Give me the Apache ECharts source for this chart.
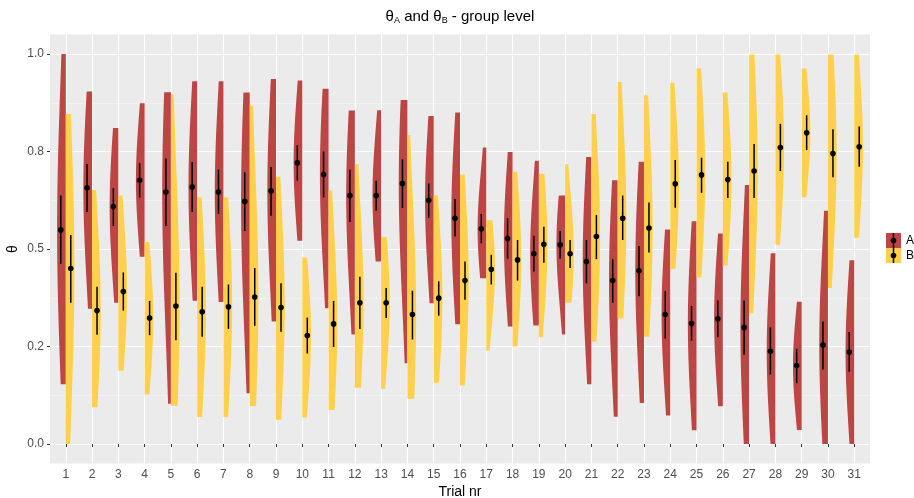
<!DOCTYPE html>
<html lang="en">
<head>
    <meta charset="UTF-8">
    <title>theta A and theta B - group level</title>
    <script type="text/javascript" src="https://cdn.jsdelivr.net/npm/echarts@6/dist/echarts.min.js"></script>
    <style>
        html, body { margin: 0; padding: 0; background: #fff; }
        #main { width: 914px; height: 498px; }
    </style>
</head>
<body>
<div id="main"></div>
<script>
    // trial numbers on the x axis
    var trials = [1, 2, 3, 4, 5, 6, 7, 8, 9, 10, 11, 12, 13, 14, 15, 16, 17, 18, 19, 20,
                  21, 22, 23, 24, 25, 26, 27, 28, 29, 30, 31];

    // group A: violin range, point estimate and error bar
    var aLo  = [0.153, 0.347, 0.362, 0.480, 0.103, 0.367, 0.364, 0.130, 0.314, 0.521, 0.348, 0.281, 0.468, 0.207, 0.361, 0.307,
                0.425, 0.301, 0.304, 0.281, 0.153, 0.070, 0.105, 0.073, 0.035, 0.097, 0.000, 0.000, 0.036, 0.000, 0.000];
    var aHi  = [1.000, 0.904, 0.810, 0.874, 0.902, 0.930, 0.930, 0.901, 0.936, 0.932, 0.911, 0.855, 0.856, 0.882, 0.841, 0.850,
                0.760, 0.749, 0.726, 0.637, 0.736, 0.676, 0.724, 0.550, 0.571, 0.540, 0.664, 0.489, 0.365, 0.598, 0.471];
    var aMid = [0.549, 0.657, 0.609, 0.676, 0.646, 0.659, 0.646, 0.622, 0.649, 0.721, 0.691, 0.637, 0.637, 0.668, 0.625, 0.579,
                0.552, 0.527, 0.488, 0.511, 0.468, 0.419, 0.444, 0.332, 0.309, 0.321, 0.299, 0.238, 0.201, 0.254, 0.236];
    var aErrLo = [0.462, 0.595, 0.559, 0.632, 0.559, 0.595, 0.590, 0.546, 0.585, 0.675, 0.632, 0.569, 0.598, 0.605, 0.580, 0.532,
                  0.515, 0.475, 0.442, 0.475, 0.412, 0.362, 0.379, 0.270, 0.265, 0.274, 0.229, 0.178, 0.156, 0.191, 0.185];
    var aErrHi = [0.637, 0.718, 0.656, 0.720, 0.732, 0.723, 0.704, 0.697, 0.710, 0.766, 0.750, 0.703, 0.675, 0.730, 0.668, 0.628,
                  0.590, 0.579, 0.534, 0.546, 0.523, 0.474, 0.508, 0.392, 0.354, 0.368, 0.368, 0.299, 0.244, 0.314, 0.287];

    // group B
    var bLo  = [0.000, 0.094, 0.188, 0.127, 0.098, 0.069, 0.069, 0.097, 0.062, 0.068, 0.087, 0.144, 0.141, 0.116, 0.157, 0.150,
                0.239, 0.250, 0.274, 0.362, 0.262, 0.322, 0.275, 0.449, 0.427, 0.458, 0.335, 0.511, 0.633, 0.400, 0.529];
    var bHi  = [0.846, 0.651, 0.637, 0.518, 0.897, 0.632, 0.633, 0.868, 0.685, 0.478, 0.650, 0.717, 0.531, 0.792, 0.638, 0.691,
                0.574, 0.698, 0.693, 0.717, 0.846, 0.928, 0.894, 0.926, 0.963, 0.901, 0.999, 0.999, 0.963, 0.999, 0.999];
    var bMid = [0.450, 0.342, 0.391, 0.323, 0.354, 0.339, 0.352, 0.377, 0.350, 0.278, 0.308, 0.362, 0.362, 0.332, 0.374, 0.419,
                0.448, 0.472, 0.512, 0.488, 0.532, 0.579, 0.554, 0.667, 0.690, 0.678, 0.700, 0.760, 0.798, 0.745, 0.762];
    var bErrLo = [0.362, 0.280, 0.342, 0.279, 0.266, 0.275, 0.295, 0.303, 0.288, 0.232, 0.249, 0.295, 0.323, 0.268, 0.329, 0.370,
                  0.409, 0.419, 0.465, 0.451, 0.474, 0.523, 0.491, 0.606, 0.644, 0.631, 0.631, 0.700, 0.754, 0.684, 0.711];
    var bErrHi = [0.536, 0.403, 0.440, 0.367, 0.439, 0.403, 0.409, 0.451, 0.412, 0.324, 0.367, 0.429, 0.400, 0.393, 0.417, 0.468,
                  0.485, 0.523, 0.557, 0.523, 0.587, 0.637, 0.619, 0.728, 0.734, 0.724, 0.769, 0.821, 0.843, 0.807, 0.814];

    // y axis breaks (ggplot rounds 0.25 / 0.75 to one digit)
    var yTicks = [0, 0.25, 0.5, 0.75, 1];
    var yTickLabels = ['0.0', '0.2', '0.5', '0.8', '1.0'];
    var yMinor = [0.125, 0.375, 0.625, 0.875];

    var colA = '#BB4644';
    var colB = '#FFD04B';
    var HALF = 0.33;    // half violin width in trial units
    var DODGE = 0.19;   // point range offset

    function zip(x, a, b, c) {
        return x.map(function (t, i) { return [t, a[i], b[i], c[i]]; });
    }

    // half violin, side -1 = left (A), +1 = right (B)
    function renderViolin(side) {
        return function (params, api) {
            var x = api.value(0), lo = api.value(1), hi = api.value(2), mid = api.value(3);
            var s = (hi - lo) / 2.2;
            var w = api.size([HALF, 0])[0];
            var pts = [];
            var n = 50;
            for (var i = 0; i <= n; i++) {
                var v = lo + (hi - lo) * i / n;
                var d = Math.exp(-0.5 * Math.pow((v - mid) / s, 2));
                var p = api.coord([x, v]);
                pts.push([p[0] + side * w * d, p[1]]);
            }
            pts.push(api.coord([x, hi]));
            pts.push(api.coord([x, lo]));
            return {
                type: 'polygon',
                shape: {points: pts},
                style: {fill: api.visual('color')}
            };
        };
    }

    function renderRange(side) {
        return function (params, api) {
            var x = api.value(0) + side * DODGE;
            var c = api.coord([x, api.value(1)]);
            var a = api.coord([x, api.value(2)]);
            var b = api.coord([x, api.value(3)]);
            return {
                type: 'group',
                children: [
                    {type: 'line', shape: {x1: a[0], y1: a[1], x2: b[0], y2: b[1]}, style: {stroke: '#000', lineWidth: 1.5}},
                    {type: 'circle', shape: {cx: c[0], cy: c[1], r: 2.8}, style: {fill: '#000'}}
                ]
            };
        };
    }

    var chart = echarts.init(document.getElementById('main'));

    var option = {
        animation: false,
        textStyle: {fontFamily: 'Liberation Sans, Arial, sans-serif'},
        title: {
            text: '{n|θ}{s|A}{n| and θ}{s|B}{n| - group level}',
            left: 460,
            top: 7.5,
            padding: 0,
            textAlign: 'center',
            textStyle: {
                fontWeight: 'normal',
                rich: {
                    n: {fontSize: 15, lineHeight: 18, fontWeight: 'normal', color: '#000', fontFamily: 'Liberation Sans'},
                    s: {fontSize: 9, lineHeight: 12, verticalAlign: 'bottom', fontWeight: 'normal', color: '#000', fontFamily: 'Liberation Sans'}
                }
            }
        },
        legend: {
            data: ['A', 'B'],
            orient: 'vertical',
            left: 886,
            top: 233,
            padding: 0,
            itemGap: 0,
            itemWidth: 15,
            itemHeight: 15,
            icon: 'rect',
            selectedMode: false,
            textStyle: {fontSize: 12, color: '#000'}
        },
        graphic: [
            {type: 'line', shape: {x1: 893.5, y1: 233, x2: 893.5, y2: 248}, style: {stroke: '#000', lineWidth: 1.5}, z: 100},
            {type: 'circle', shape: {cx: 893.5, cy: 240.5, r: 2.8}, style: {fill: '#000'}, z: 100},
            {type: 'line', shape: {x1: 893.5, y1: 248, x2: 893.5, y2: 263}, style: {stroke: '#000', lineWidth: 1.5}, z: 100},
            {type: 'circle', shape: {cx: 893.5, cy: 255.5, r: 2.8}, style: {fill: '#000'}, z: 100}
        ],
        grid: {
            left: 50,
            top: 34.5,
            width: 820,
            height: 429,
            outerBoundsMode: 'none',
            containLabel: false,
            show: true,
            backgroundColor: '#EBEBEB',
            borderWidth: 0
        },
        xAxis: {
            type: 'value',
            min: 0.4,
            max: 31.6,
            name: 'Trial nr',
            nameLocation: 'middle',
            nameGap: 22,
            nameTextStyle: {fontSize: 14, color: '#000'},
            axisLine: {show: false},
            axisTick: {show: true, customValues: trials, length: 3, lineStyle: {color: '#333', width: 1}},
            axisLabel: {customValues: trials, color: '#4D4D4D', fontSize: 12, margin: 5},
            splitLine: {show: true, lineStyle: {color: '#fff', width: 1.1}}
        },
        yAxis: [{
            type: 'value',
            min: -0.05,
            max: 1.05,
            name: 'θ',
            nameLocation: 'middle',
            nameGap: 30,
            nameMoveOverlap: false,
            nameRotate: 90,
            nameTextStyle: {fontSize: 14, color: '#000'},
            axisLine: {show: false},
            axisTick: {show: true, customValues: yTicks, length: 3, lineStyle: {color: '#333', width: 1}},
            axisLabel: {
                customValues: yTicks, color: '#4D4D4D', fontSize: 12, margin: 6,
                formatter: function (v) { return yTickLabels[yTicks.indexOf(v)]; }
            },
            splitLine: {show: true, lineStyle: {color: '#fff', width: 1.1}}
        }, {
            type: 'value',
            min: -0.05,
            max: 1.05,
            axisLine: {show: false},
            axisTick: {show: false, customValues: yMinor},
            axisLabel: {show: false, customValues: yMinor},
            splitLine: {show: true, lineStyle: {color: '#F7F7F7', width: 0.6}}
        }],
        series: [
            {name: 'A', type: 'custom', renderItem: renderViolin(-1), itemStyle: {color: colA},
             encode: {x: 0, y: [1, 2]}, data: zip(trials, aLo, aHi, aMid), z: 2},
            {name: 'B', type: 'custom', renderItem: renderViolin(1), itemStyle: {color: colB},
             encode: {x: 0, y: [1, 2]}, data: zip(trials, bLo, bHi, bMid), z: 2},
            {name: 'A range', type: 'custom', renderItem: renderRange(-1), itemStyle: {color: '#000'},
             encode: {x: 0, y: [1, 2, 3]}, data: zip(trials, aMid, aErrLo, aErrHi), z: 3},
            {name: 'B range', type: 'custom', renderItem: renderRange(1), itemStyle: {color: '#000'},
             encode: {x: 0, y: [1, 2, 3]}, data: zip(trials, bMid, bErrLo, bErrHi), z: 3}
        ]
    };

    chart.setOption(option);
</script>
</body>
</html>
